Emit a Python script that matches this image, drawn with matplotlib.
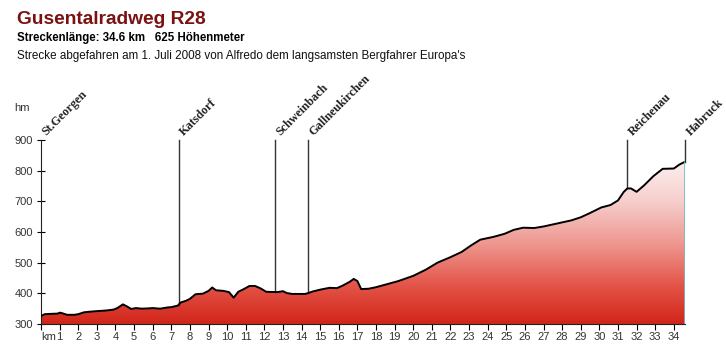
import matplotlib.pyplot as plt
import numpy as np
from matplotlib.colors import LinearSegmentedColormap

# профиль высот: километры и высота (м)
km = [0.0, 0.2, 0.5, 0.9, 1.0, 1.15, 1.4, 1.8, 2.0, 2.3, 2.6, 3.0, 3.5, 3.9, 4.1, 4.4,
      4.6, 4.85, 5.1, 5.4, 5.8, 6.0, 6.4, 6.8, 7.0, 7.35, 7.5, 7.8, 8.0, 8.3, 8.7, 9.0,
      9.2, 9.4, 9.8, 10.1, 10.35, 10.6, 10.9, 11.2, 11.5, 11.8, 12.1, 12.7, 13.0, 13.2,
      13.5, 14.2, 14.6, 15.0, 15.5, 15.9, 16.2, 16.6, 16.8, 17.0, 17.2, 17.6, 18.0, 18.6,
      19.2, 20.0, 20.7, 21.3, 22.0, 22.6, 23.1, 23.6, 24.3, 24.9, 25.4, 25.9, 26.5, 27.0,
      27.6, 28.5, 29.0, 29.5, 30.1, 30.6, 31.0, 31.3, 31.5, 31.7, 32.0, 32.4, 32.9, 33.4,
      34.0, 34.3, 34.6]
elev = [326, 332, 333, 334, 337, 335, 330, 330, 332, 338, 340, 342, 344, 347, 352, 364,
        358, 349, 352, 350, 351, 352, 350, 354, 355, 360, 370, 376, 382, 397, 399, 408,
        419, 410, 408, 404, 386, 405, 414, 424, 424, 416, 405, 404, 407, 401,
        398, 398, 406, 412, 418, 417, 425, 438, 447, 440, 414, 415, 420, 430,
        440, 457, 478, 500, 518, 535, 556, 575, 584, 594, 607, 614, 613, 618,
        626, 638, 648, 662, 680, 688, 703, 730, 742, 742, 731, 752, 782, 806,
        807, 820, 829]

# населённые пункты
places = ['St.Georgen', 'Katsdorf', 'Schweinbach', 'Gallneukirchen', 'Reichenau', 'Habruck']
place_km = [0.0, 7.4, 12.55, 14.35, 31.5, 34.6]

yticks = [300, 400, 500, 600, 700, 800, 900]
xticks = list(range(0, 35))
xlabels = ['km'] + [str(i) for i in range(1, 35)]

km = np.array(km)
elev = np.array(elev)

fig = plt.figure(figsize=(7.26, 3.44), dpi=100)
ax = fig.add_axes([41 / 726, 1 - 324 / 344, (685 - 41) / 726, (324 - 140) / 344])
ax.set_xlim(0, 34.6)
ax.set_ylim(300, 900)

# градиент от красного к белому
cmap = LinearSegmentedColormap.from_list('prof', [
    (0.0, '#d2251a'), (0.2, '#e35246'), (0.43, '#ee958e'),
    (0.67, '#f6cfcd'), (0.92, '#fdf4f4'), (1.0, '#ffffff')])
grad = np.linspace(0, 1, 256).reshape(-1, 1)
img = ax.imshow(grad, extent=[0, 34.6, 300, 900], origin='lower', aspect='auto',
                cmap=cmap, zorder=1)
poly = ax.fill_between(km, 300, elev, facecolor='none', edgecolor='none')
img.set_clip_path(poly.get_paths()[0], transform=ax.transData)

ax.plot(km, elev, color='black', lw=1.4, zorder=3)
ax.plot([34.6, 34.6], [300, elev[-1]], color='#6cc0c0', lw=1.2, zorder=3)

# вертикальные линии и подписи
for name, p in zip(places, place_km):
    h = np.interp(p, km, elev)
    if p > 0:
        ax.plot([p, p], [h, 900], color='#333333', lw=1, zorder=2, clip_on=False)
    ax.text(p + 0.4, 905, name, rotation=45, ha='left', va='bottom',
            rotation_mode='anchor', family='Liberation Serif', fontweight='bold',
            fontsize=8.7, color='#222222', clip_on=False)

for s in ['top', 'right']:
    ax.spines[s].set_visible(False)
ax.spines['left'].set_color('#222222')
ax.spines['bottom'].set_color('#222222')
ax.set_yticks(yticks)
ax.set_xticks(xticks)
ax.set_xticklabels(xlabels)
ax.tick_params(axis='y', direction='inout', length=6, labelsize=8, labelcolor='#333333', pad=3)
ax.tick_params(axis='x', direction='out', length=4, labelsize=8, labelcolor='#333333', pad=2)
for lab in ax.get_xticklabels() + ax.get_yticklabels():
    lab.set_family('Liberation Sans')
ax.get_xticklabels()[0].set_ha('left')

fig.text(14 / 726, 1 - 108 / 344, 'hm', fontsize=8, color='#333333',
         family='Liberation Sans', va='center')

fig.text(17 / 726, 1 - 20 / 344, 'Gusentalradweg R28', fontsize=13.8, fontweight='bold',
         color='#7a1212', family='Liberation Sans', va='center')
fig.text(17 / 726, 1 - 38 / 344, 'Streckenlänge: 34.6 km   625 Höhenmeter', fontsize=8.3,
         fontweight='bold', color='black', family='Liberation Sans', va='center')
fig.text(17 / 726, 1 - 56 / 344,
         "Strecke abgefahren am 1. Juli 2008 von Alfredo dem langsamsten Bergfahrer Europa's",
         fontsize=8.4, color='#111111', family='Liberation Sans', va='center')

plt.savefig('out.png', dpi=100)
